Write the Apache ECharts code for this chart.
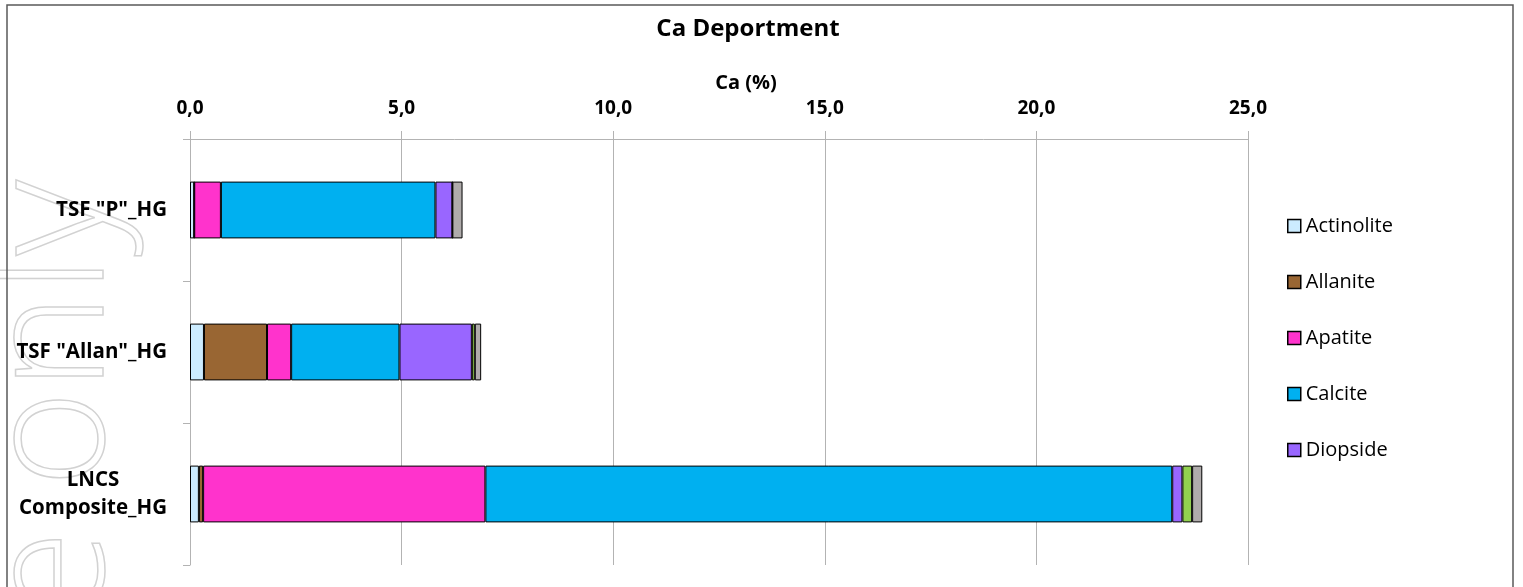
<!DOCTYPE html>
<html>
<head>
<meta charset="utf-8">
<script src="https://cdn.jsdelivr.net/npm/echarts@6/dist/echarts.min.js"></script>
<style>
html,body{margin:0;padding:0;background:#fff;}
#chart{width:1523px;height:587px;}
</style>
</head>
<body>
<div id="chart"></div>
<script>
const categories = ['TSF "P"_HG', 'TSF "Allan"_HG', 'LNCS Composite_HG'];
const xTicks = [0, 5, 10, 15, 20, 25];
const seriesNames = ['Actinolite', 'Allanite', 'Apatite', 'Calcite', 'Diopside', 'Epidote', 'Other'];
const actinolite = [0.10, 0.33, 0.21];
const allanite   = [0.00, 1.49, 0.10];
const apatite    = [0.63, 0.57, 6.67];
const calcite    = [5.07, 2.56, 16.23];
const diopside   = [0.40, 1.71, 0.24];
const epidote    = [0.00, 0.07, 0.23];
const other      = [0.24, 0.15, 0.24];
const legendNames = ['Actinolite', 'Allanite', 'Apatite', 'Calcite', 'Diopside'];
const colors = ['#CCECFF', '#996633', '#FF33CC', '#00B0F0', '#9966FF', '#92D050', '#AFABAB'];
const values = [actinolite, allanite, apatite, calcite, diopside, epidote, other];

const FONT = '"Open Sans", sans-serif';
const chart = echarts.init(document.getElementById('chart'));
chart.setOption({
  animation: false,
  backgroundColor: '#fff',
  title: {
    text: 'Ca Deportment',
    left: 743, top: 12, textAlign: 'center',
    textStyle: {fontFamily: FONT, fontSize: 24, fontWeight: 'bold', color: '#000'}
  },
  graphic: [
    {type: 'rect', shape: {x: 7, y: 5, width: 1506, height: 600}, style: {fill: 'none', stroke: '#595959', lineWidth: 1.5}, z: 100, silent: true},
    {type: 'text', x: 138, y: 180, rotation: Math.PI / 2, z: -1, silent: true,
     style: {text: 'Reference only', font: 'lighter 165px "Open Sans", sans-serif', fill: 'rgba(0,0,0,0)', stroke: '#d2d2d2', lineWidth: 1.5, align: 'right', verticalAlign: 'bottom'}}
  ],
  legend: {
    data: legendNames,
    orient: 'vertical',
    left: 1282, top: 211,
    itemWidth: 13, itemHeight: 13, itemGap: 36,
    icon: 'rect',
    itemStyle: {borderColor: '#000', borderWidth: 1.5},
    textStyle: {fontFamily: FONT, fontSize: 20, lineHeight: 20, color: '#000'}
  },
  grid: {left: 190, right: 275, top: 139, bottom: 22, containLabel: false},
  xAxis: {
    type: 'value', position: 'top',
    min: xTicks[0], max: xTicks[xTicks.length - 1], interval: 5,
    name: 'Ca (%)', nameLocation: 'middle', nameGap: 46,
    nameTextStyle: {fontFamily: FONT, fontSize: 20, fontWeight: 'bold', color: '#000', padding: [0, 0, 0, 54]},
    axisLine: {show: true, lineStyle: {color: '#b3b3b3', width: 1}},
    axisTick: {show: true, length: 8, lineStyle: {color: '#b3b3b3'}},
    splitLine: {show: true, lineStyle: {color: '#b3b3b3', width: 1}},
    axisLabel: {
      margin: 21, fontFamily: FONT, fontSize: 19, fontWeight: 'bold', color: '#000',
      formatter: v => v.toFixed(1).replace('.', ',')
    }
  },
  yAxis: {
    type: 'category', inverse: true, data: categories,
    axisLine: {show: true, lineStyle: {color: '#b3b3b3', width: 1}},
    axisTick: {show: true, length: 7, lineStyle: {color: '#b3b3b3'}},
    splitLine: {show: false},
    axisLabel: {
      margin: 23, align: 'right',
      formatter: v => (v.length > 16 ? v.replace(' ', '\n') : v).split('\n').map(s => '{c|' + s + '}').join('\n'),
      rich: {c: {align: 'center', fontFamily: FONT, fontSize: 20.5, fontWeight: 'bold', color: '#000', lineHeight: 28}}
    }
  },
  series: seriesNames.map((n, i) => ({
    name: n, type: 'bar', stack: 'total', barWidth: '40%',
    data: values[i],
    itemStyle: {color: colors[i], borderColor: '#000', borderWidth: 1}
  }))
});
</script>
</body>
</html>
